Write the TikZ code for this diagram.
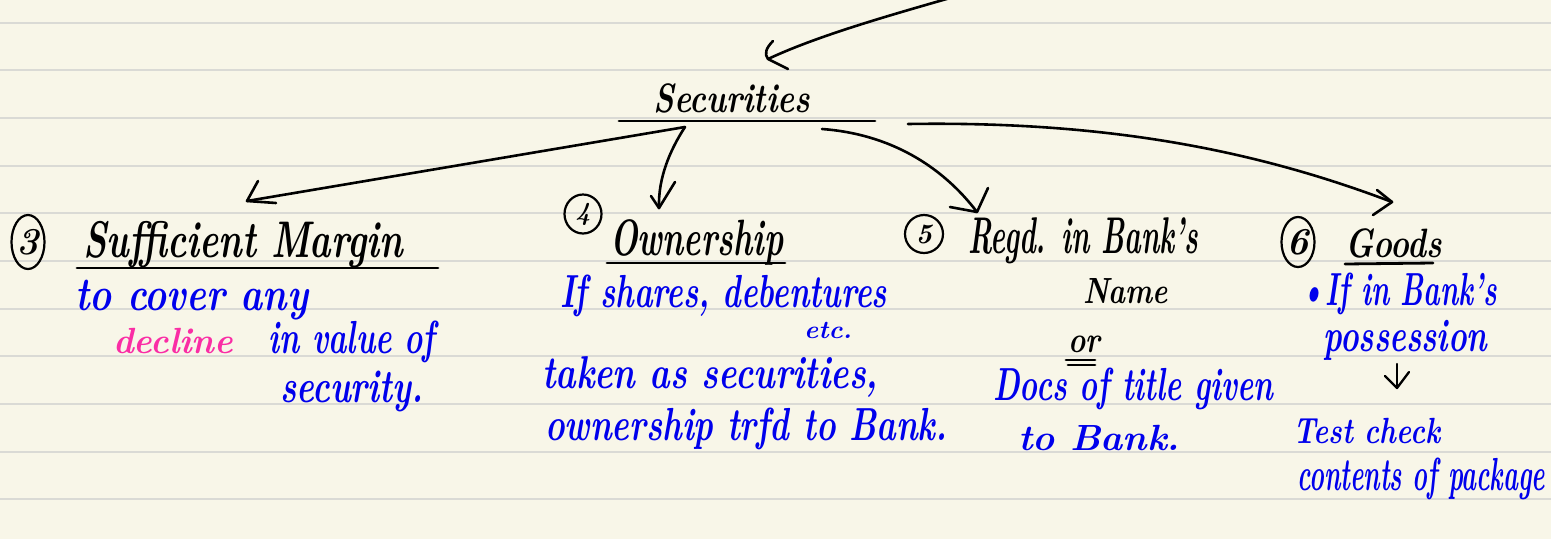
\documentclass[tikz,border=0pt]{standalone}
\usepackage{fontspec}
\usetikzlibrary{shapes.geometric}
\definecolor{paper}{RGB}{248,246,232}
\definecolor{ruleln}{RGB}{218,218,213}
\definecolor{ink}{RGB}{0,0,0}
\definecolor{pen}{RGB}{0,0,236}
\definecolor{hotpink}{RGB}{250,45,165}
\newcommand{\tw}[2]{\resizebox{#1pt}{\totalheight}{\bfseries\itshape #2}}
\begin{document}
\begin{tikzpicture}[x=1pt,y=-1pt,
  hw/.style={anchor=base west, inner sep=0pt, text=ink, font=\fontsize{40}{48}\selectfont},
  bl/.style={hw, text=pen, font=\fontsize{36}{44}\selectfont},
  pk/.style={bl, text=hotpink},
  circ/.style={draw=ink, ellipse, line width=2.2pt, inner sep=0pt, font=\fontsize{38}{40}\selectfont\bfseries\itshape},
  stroke/.style={draw=ink, line width=2.6pt, line cap=round, line join=round},
  ulin/.style={draw=ink, line width=2.8pt, line cap=round}]
\useasboundingbox (0,0) rectangle (1551,539);
\fill[paper] (0,0) rectangle (1551,539);
\foreach \k in {0,...,10} \draw[ruleln, line width=1.8pt] (0,{22.7+47.66*\k}) -- (1551,{22.7+47.66*\k});

% top incoming arrow
\coordinate (topin) at (950,-2);
\coordinate (tip0) at (768,59);
\draw[stroke] (topin) .. controls (880,18) and (815,37) .. (tip0);
\draw[stroke] (773,41) .. controls (766,48) and (764,54) .. (tip0) -- (788,69);

% Securities
\node[hw] (sec) at (653,112) {\tw{157}{Securities}};
\draw[ulin] (619,121) -- (875,121);
\coordinate (s1) at (685,127);
\coordinate (s2) at (822,129);
\coordinate (s3) at (908,124);

% heading 3
\node[circ, minimum width=33, minimum height=54] (n3) at (28,242) {3};
\node[hw] (suf) at (83,257) {\tw{320}{Sufficient Margin}};
\draw[ulin] (77,268) -- (438,268);
\coordinate (t3) at (247,201);
\draw[stroke] (s1) -- (t3);
\draw[stroke] (258,181) -- (t3) -- (276,203);

% heading 4
\node[circ, minimum width=37, minimum height=39, font=\fontsize{26}{30}\selectfont\bfseries\itshape] (n4) at (583,214) {4};
\node[hw] (own) at (610,255) {\tw{173}{Ownership}};
\draw[ulin] (607,263) -- (785,263);
\coordinate (t4) at (659,208);
\draw[stroke] (s1) .. controls (670,150) and (658,178) .. (t4);
\draw[stroke] (651,196) -- (t4) -- (675,182);

% heading 5
\node[circ, minimum width=38, minimum height=38, font=\fontsize{28}{30}\selectfont\bfseries\itshape] (n5) at (924,234) {5};
\node[hw] (reg) at (968,253) {\tw{230}{Regd. in Bank's}};
\coordinate (t5) at (977,212);
\draw[stroke] (s2) .. controls (890,134) and (942,166) .. (t5);
\draw[stroke] (988,188) -- (t5) -- (950,207);

% heading 6
\node[circ, minimum width=33, minimum height=50] (n6) at (1298,242) {6};
\node[hw] (goods) at (1345,257) {\tw{97}{Goods}};
\draw[ulin] (1345,264) -- (1433,263);
\coordinate (t6) at (1392,202);
\draw[stroke] (s3) .. controls (1100,121) and (1250,148) .. (t6);
\draw[stroke] (1377,190) -- (t6) -- (1373,215);

% column 3 body
\node[bl] (c3a) at (75,310) {\tw{233}{to cover any}};
\node[pk] (c3b) at (113,353) {\tw{120}{decline}};
\node[bl] (c3c) at (268,353) {\tw{167}{in value of}};
\node[bl] (c3d) at (280,402) {\tw{143}{security.}};

% column 4 body
\node[bl] (c4a) at (560,307) {\tw{327}{If shares, debentures}};
\node[bl, font=\fontsize{25}{30}\selectfont] (c4b) at (804,338) {\tw{48}{etc.}};
\node[bl] (c4c) at (542,388) {\tw{336}{taken as securities,}};
\node[bl] (c4d) at (545,440) {\tw{402}{ownership trfd to Bank.}};

% column 5 body
\node[hw, font=\fontsize{36}{44}\selectfont] (c5a) at (1083,303) {\tw{85}{Name}};
\node[hw, font=\fontsize{36}{44}\selectfont] (c5or) at (1068,352) {\tw{32}{or}};
\draw[ulin] (1066,360) -- (1095,360);
\draw[ulin] (1068,365) -- (1095,365);
\node[bl] (c5b) at (993,400) {\tw{280}{Docs of title given}};
\node[bl] (c5c) at (1018,450) {\tw{162}{to Bank.}};

% column 6 body
\node[bl] (c6a) at (1300,305) {\tw{197}{\textbullet If in Bank's}};
\node[bl] (c6b) at (1323,351) {\tw{164}{possession}};
\coordinate (d0) at (1397,364);
\coordinate (d1) at (1397,388);
\draw[stroke, line width=2.3pt] (d0) -- (d1);
\draw[stroke, line width=2.3pt] (1385,376) -- (d1) -- (1409,372);
\node[bl] (c6c) at (1293,443) {\tw{147}{Test check}};
\node[bl] (c6d) at (1297,490) {\tw{248}{contents of package}};
\end{tikzpicture}
\end{document}
